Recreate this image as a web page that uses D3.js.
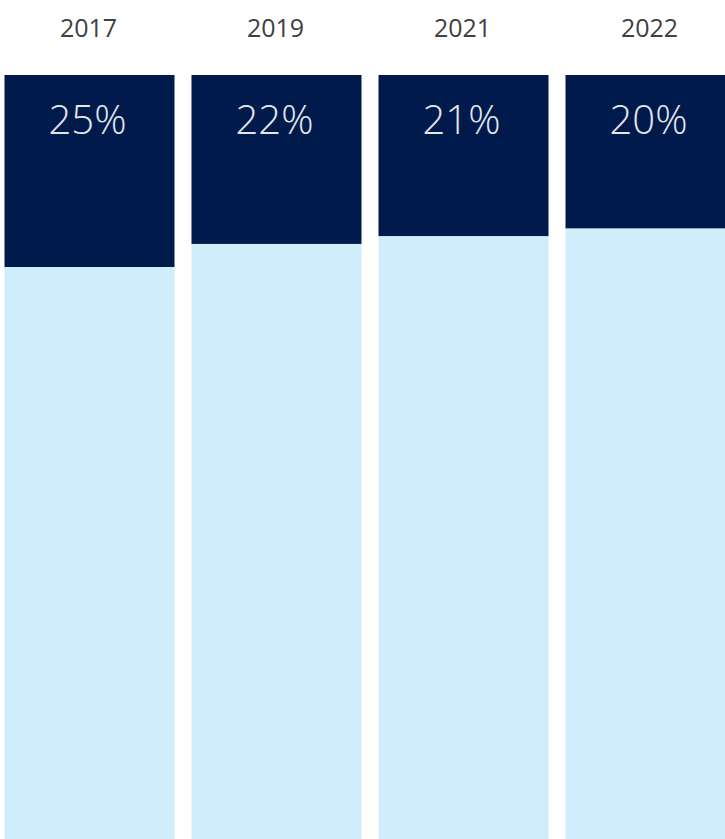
<!DOCTYPE html>
<html>
<head>
<meta charset="utf-8">
<script src="https://cdn.jsdelivr.net/npm/d3@7"></script>
<style>
  html, body { margin: 0; padding: 0; background: #ffffff; overflow: hidden; }
  svg { display: block; }
</style>
</head>
<body>
<div id="chart"></div>
<script>
// Share of the total in each year (top segment); the remainder fills the bar.
const years = ["2017", "2019", "2021", "2022"];
const shareValues = [25, 22, 21, 20];
const shareLabels = ["25%", "22%", "21%", "20%"];

const width = 725, height = 839;
const darkColor = "#011a4c";
const lightColor = "#d0edfc";

const svg = d3.select("#chart").append("svg")
  .attr("width", width)
  .attr("height", height);

const x = d3.scaleBand()
  .domain(years)
  .range([4.5, 735.5])
  .paddingInner(0.0909)
  .paddingOuter(0);

// Each bar is a 100% stack running from the top down.
const y = d3.scaleLinear()
  .domain([0, 100])
  .range([75, 843]);

const rows = years.map((yr, i) => ({ year: yr, share: shareValues[i], label: shareLabels[i] }));
const stack = d3.stack().keys(["share", "rest"])
  .value((d, k) => k === "share" ? d.share : 100 - d.share);
const series = stack(rows);
const colors = { share: darkColor, rest: lightColor };

svg.selectAll("g.series")
  .data(series)
  .join("g")
  .attr("class", "series")
  .attr("fill", s => colors[s.key])
  .selectAll("rect")
  .data(s => s)
  .join("rect")
  .attr("x", d => x(d.data.year))
  .attr("width", x.bandwidth())
  .attr("y", d => y(d[0]))
  .attr("height", d => y(d[1]) - y(d[0]));

// Year labels above each bar
const xAxis = d3.axisTop(x).tickSize(0).tickPadding(0);
const axisG = svg.append("g")
  .attr("transform", "translate(-1, 37)")
  .call(xAxis);
axisG.select(".domain").remove();
axisG.selectAll("text")
  .attr("fill", "#404040")
  .attr("font-family", "'Open Sans', 'Noto Sans', sans-serif")
  .attr("font-size", 25)
  .attr("font-weight", 400)
  .attr("dy", 0);

// Percentage labels inside the dark segment
svg.append("g")
  .selectAll("text")
  .data(rows)
  .join("text")
  .attr("x", d => x(d.year) + x.bandwidth() / 2 - 2)
  .attr("y", 134)
  .attr("text-anchor", "middle")
  .attr("fill", "#e4e6ec")
  .attr("font-family", "'Open Sans', 'Noto Sans', sans-serif")
  .attr("font-size", 40)
  .attr("font-weight", 300)
  .text(d => d.label);
</script>
</body>
</html>
